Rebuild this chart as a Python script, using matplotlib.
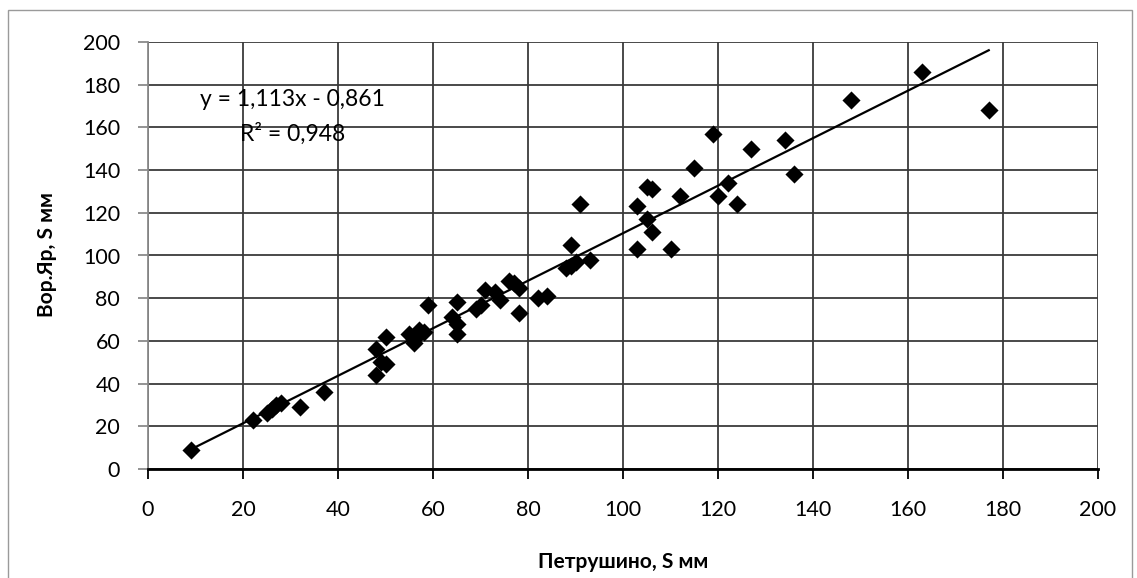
import matplotlib
matplotlib.use("Agg")
import matplotlib.pyplot as plt
from matplotlib.patches import Rectangle
import numpy as np

plt.rcParams['font.family'] = ['Lato', 'Noto Sans', 'DejaVu Sans']

x_petrushino = [9, 22, 25, 26, 27, 28, 32, 37,
                48, 49, 50, 48, 50, 55, 56, 57, 58, 56, 59,
                64, 65, 65, 65, 69, 70, 71, 73, 74, 76, 77, 78, 78, 82, 84,
                88, 89, 89, 90, 91, 93,
                103, 103, 105, 105, 106, 106, 110, 112, 115, 119, 120, 122, 124,
                127, 134, 136, 148, 163, 177]
y_vorjar = [9, 23, 26, 28, 30, 31, 29, 36,
            44, 50, 49, 56, 62, 63, 59, 65, 64, 61, 77,
            71, 78, 68, 63, 75, 77, 84, 83, 79, 88, 87, 85, 73, 80, 81,
            94, 105, 95, 97, 124, 98,
            123, 103, 117, 132, 131, 111, 103, 128, 141, 157, 128, 134, 124,
            150, 154, 138, 173, 186, 168]

slope = 1.113
intercept = -0.861
eq_text = "y = 1,113x - 0,861"
r2_text = "R² = 0,948"
x_ticks = list(range(0, 201, 20))
y_ticks = list(range(0, 201, 20))
x_label = "Петрушино, S мм"
y_label = "Вор.Яр, S мм"

fig = plt.figure(figsize=(11.37, 5.78), dpi=100)
fig.patch.set_facecolor('white')
ax = fig.add_axes([148/1137, 1-469/578, (1098-148)/1137, (469-42)/578])

ax.set_xlim(0, 200)
ax.set_ylim(0, 200)
ax.set_xticks(x_ticks)
ax.set_yticks(y_ticks)
ax.grid(True, color='#3a3a3a', linewidth=1.3, zorder=0)
ax.set_axisbelow(True)

for s in ['top', 'right']:
    ax.spines[s].set_visible(False)
ax.spines['left'].set_color('#8a8a8a')
ax.spines['left'].set_linewidth(1.3)
ax.spines['bottom'].set_color('black')
ax.spines['bottom'].set_linewidth(2)

ax.tick_params(axis='x', direction='out', length=7, width=1.3, pad=15,
               labelsize=15.5, colors='black')
ax.tick_params(axis='y', direction='out', length=7, width=1.3, pad=13,
               labelsize=15.5, colors='black')
ax.tick_params(axis='y', color='#8a8a8a')

ax.scatter(x_petrushino, y_vorjar, marker='D', s=85, color='black',
           zorder=3, linewidths=0)

xl = np.array([min(x_petrushino), max(x_petrushino)])
ax.plot(xl, slope*xl + intercept, color='black', linewidth=1.6, zorder=4)

ax.text(30.5, 173, eq_text, ha='center', va='center', fontsize=16.5, zorder=5)
ax.text(30.5, 157, r2_text, ha='center', va='center', fontsize=16.5, zorder=5)

fig.text(47/1137, 1-255/578, y_label, rotation=90, ha='center', va='center',
         fontsize=15, fontweight='bold')
fig.text(623/1137, 1-562/578, x_label, ha='center', va='center',
         fontsize=15, fontweight='bold')

fig.add_artist(Rectangle((8/1137, -0.01), (1132-8)/1137, 1-10/578+0.01,
                         transform=fig.transFigure, fill=False,
                         edgecolor='#9a9a9a', linewidth=1))

fig.savefig('out.png', dpi=100, facecolor='white')
